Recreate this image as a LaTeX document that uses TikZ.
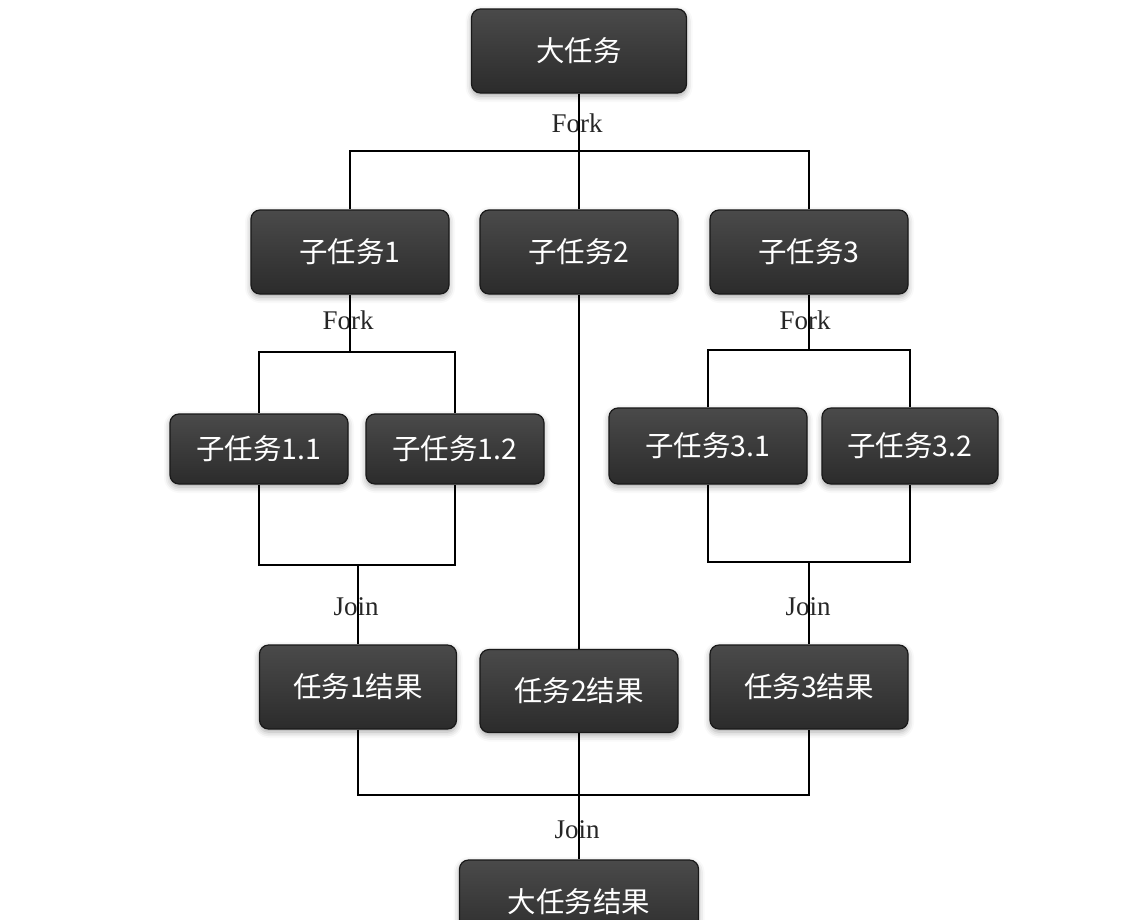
\documentclass[tikz,border=0pt]{standalone}
\usepackage{fontspec}
\setmainfont{Liberation Serif}
\newfontfamily\cjk{Noto Sans CJK SC}
\usetikzlibrary{shadows.blur}
\begin{document}
\begin{tikzpicture}[x=1pt,y=-1pt,
  taskbox/.style={draw=black!90, line width=1.2pt, rounded corners=9pt,
    top color=black!71, bottom color=black!83, text=white,
    font=\cjk\fontsize{28.5}{32}\selectfont, inner sep=0pt,
    blur shadow={shadow xshift=0pt, shadow yshift=-3pt, shadow blur radius=6pt, shadow opacity=35}},
  lbl/.style={font=\fontsize{27}{30}\selectfont, text=black!85, inner sep=0pt},
  conn/.style={line width=1.8pt, draw=black}]
\useasboundingbox (0,0) rectangle (1145,919);

% nodes
\node[taskbox, minimum width=215pt, minimum height=84pt] (big) at (579,51) {大任务};
\node[taskbox, minimum width=198pt, minimum height=84pt] (s1) at (350,252) {子任务1};
\node[taskbox, minimum width=198pt, minimum height=84pt] (s2) at (579,252) {子任务2};
\node[taskbox, minimum width=198pt, minimum height=84pt] (s3) at (809,252) {子任务3};
\node[taskbox, minimum width=178pt, minimum height=70pt] (s11) at (259,449) {子任务1.1};
\node[taskbox, minimum width=178pt, minimum height=70pt] (s12) at (455,449) {子任务1.2};
\node[taskbox, minimum width=198pt, minimum height=76pt] (s31) at (708,446) {子任务3.1};
\node[taskbox, minimum width=176pt, minimum height=76pt] (s32) at (910,446) {子任务3.2};
\node[taskbox, minimum width=197pt, minimum height=84pt] (r1) at (358,687) {任务1结果};
\node[taskbox, minimum width=198pt, minimum height=83pt] (r2) at (579,691) {任务2结果};
\node[taskbox, minimum width=198pt, minimum height=84pt] (r3) at (809,687) {任务3结果};
\node[taskbox, minimum width=239pt, minimum height=84pt] (res) at (579,902) {大任务结果};

% labels
\node[lbl] (lf0) at (577,123) {Fork};
\node[lbl] (lf1) at (348,320) {Fork};
\node[lbl] (lf3) at (805,320) {Fork};
\node[lbl] (lj1) at (356,607) {Join};
\node[lbl] (lj3) at (808,607) {Join};
\node[lbl] (lj0) at (577,830) {Join};

% junction points
\coordinate (f0) at (579,151);
\coordinate (f1) at (350,352);
\coordinate (f3) at (809,350);
\coordinate (j1) at (358,565);
\coordinate (j3) at (809,562);
\coordinate (j0) at (579,795);

% connectors
\draw[conn] (big.south) -- (s2.north);
\draw[conn] (s1.north) |- (f0) -| (s3.north);
\draw[conn] (s1.south) -- (f1);
\draw[conn] (s11.north) |- (f1) -| (s12.north);
\draw[conn] (s3.south) -- (f3);
\draw[conn] (s31.north) |- (f3) -| (s32.north);
\draw[conn] (s11.south) |- (j1) -| (s12.south);
\draw[conn] (j1) -- (r1.north);
\draw[conn] (s31.south) |- (j3) -| (s32.south);
\draw[conn] (j3) -- (r3.north);
\draw[conn] (s2.south) -- (r2.north);
\draw[conn] (r1.south) |- (j0) -| (r3.south);
\draw[conn] (r2.south) -- (res.north);
\end{tikzpicture}
\end{document}
